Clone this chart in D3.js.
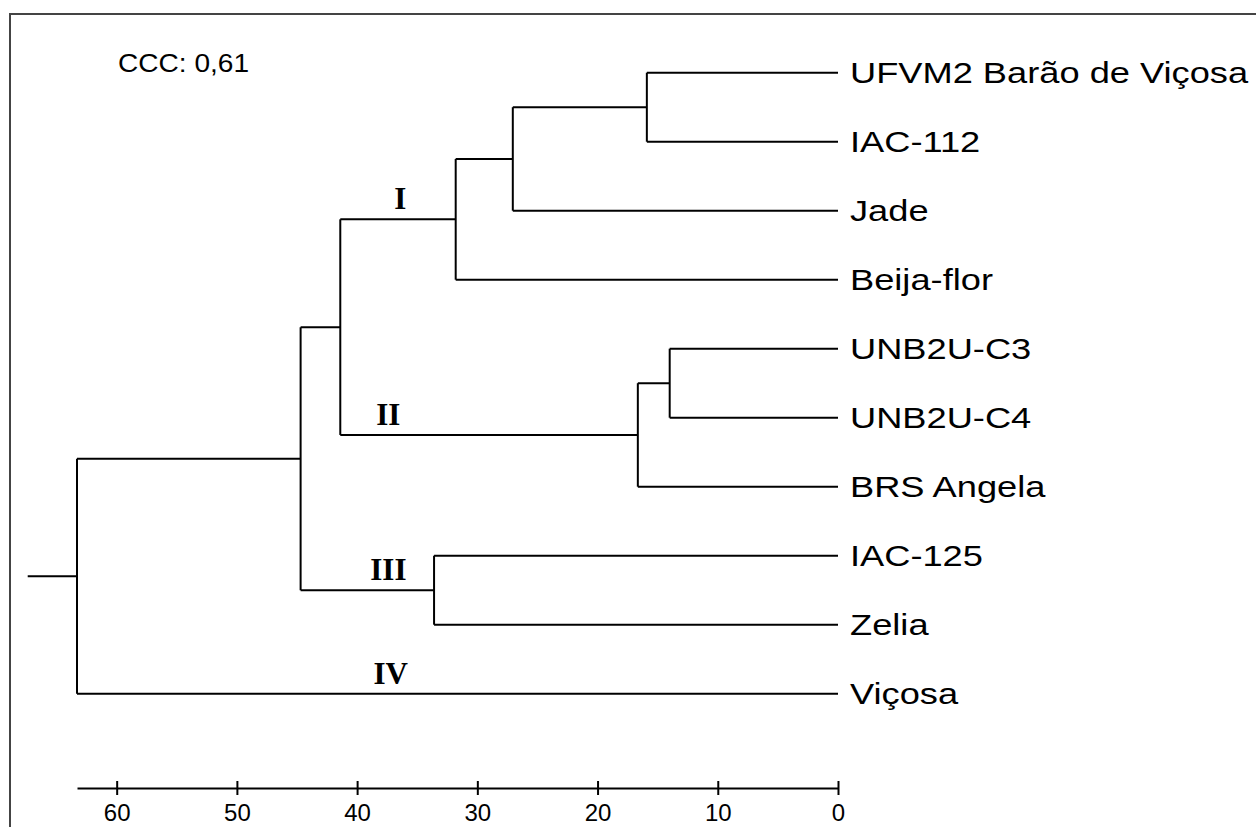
<!DOCTYPE html>
<html>
<head>
<meta charset="utf-8">
<script src="https://cdn.jsdelivr.net/npm/d3@7"></script>
<style>
  body { margin: 0; background: #fff; }
  svg { display: block; }
</style>
</head>
<body>
<div id="chart"></div>
<script>
// leaves, top to bottom
var leaves = ["UFVM2 Barão de Viçosa", "IAC-112", "Jade", "Beija-flor", "UNB2U-C3",
              "UNB2U-C4", "BRS Angela", "IAC-125", "Zelia", "Viçosa"];

// linkage: node nK joins mergeLeft[K] and mergeRight[K] at mergeHeight[K]
var mergeLeft   = ["UNB2U-C3", "UFVM2 Barão de Viçosa", "n0", "n1", "n3", "IAC-125", "n4", "n6", "n7"];
var mergeRight  = ["UNB2U-C4", "IAC-112", "BRS Angela", "Jade", "Beija-flor", "Zelia", "n2", "n5", "Viçosa"];
var mergeHeight = [14.0, 15.9, 16.65, 27.05, 31.8, 33.6, 41.4, 44.7, 63.3];
var rootStem = 67.4;

var tickValues = [60, 50, 40, 30, 20, 10, 0];

// group labels and the branch they sit on
var groupNames = ["I", "II", "III", "IV"];
var groupNodes = ["n4", "n2", "n5", "Viçosa"];
var groupAt    = [36.4, 37.4, 37.4, 37.2];

var ccc = "CCC: 0,61";

var width = 1256, height = 827;

var svg = d3.select("#chart").append("svg")
  .attr("width", width)
  .attr("height", height);

// frame (only left and top edges are visible)
svg.append("rect")
  .attr("x", 10).attr("y", 14)
  .attr("width", 1400).attr("height", 1000)
  .attr("fill", "none")
  .attr("stroke", "#444")
  .attr("stroke-width", 2);

// build the tree from the linkage
var nodes = {};
leaves.forEach(function(name) { nodes[name] = {name: name, h: 0}; });
mergeLeft.forEach(function(l, i) {
  nodes["n" + i] = {name: "n" + i, h: mergeHeight[i], children: [nodes[l], nodes[mergeRight[i]]]};
});
var root = d3.hierarchy(nodes["n" + (mergeLeft.length - 1)]);

var y = d3.scalePoint()
  .domain(leaves)
  .range([72.7, 693.7]);

var x = d3.scaleLinear()
  .domain([0, mergeHeight[mergeHeight.length - 1]])
  .range([838, 77]);

// leaves on the point scale, inner nodes halfway between their children
root.eachAfter(function(d) {
  d.y = d.children ? d3.mean(d.children, function(c) { return c.y; }) : y(d.data.name);
});

var g = svg.append("g")
  .attr("fill", "none")
  .attr("stroke", "#000")
  .attr("stroke-width", 2);

root.descendants().forEach(function(d) {
  if (!d.children) return;
  g.append("line")
    .attr("x1", x(d.data.h)).attr("x2", x(d.data.h))
    .attr("y1", d3.min(d.children, function(c) { return c.y; }))
    .attr("y2", d3.max(d.children, function(c) { return c.y; }));
  d.children.forEach(function(c) {
    g.append("line")
      .attr("x1", x(d.data.h)).attr("x2", x(c.data.h))
      .attr("y1", c.y).attr("y2", c.y);
  });
});

// root stem
g.append("line")
  .attr("x1", x(rootStem)).attr("x2", x(root.data.h))
  .attr("y1", root.y).attr("y2", root.y);

// leaf labels
svg.append("g").selectAll("text")
  .data(root.leaves())
  .enter()
  .append("text")
  .attr("transform", function(d) { return "translate(850," + d.y + ") scale(1.25,1)"; })
  .attr("dy", "0.36em")
  .style("font-family", "'Liberation Sans', Arial, sans-serif")
  .style("font-size", "29px")
  .text(function(d) { return d.data.name; });

// group labels
var byName = {};
root.descendants().forEach(function(d) { byName[d.data.name] = d; });
svg.append("g").selectAll("text")
  .data(groupNames)
  .enter()
  .append("text")
  .attr("x", function(d, i) { return x(groupAt[i]); })
  .attr("y", function(d, i) { return byName[groupNodes[i]].y - 10; })
  .attr("text-anchor", "middle")
  .style("font-family", "'Liberation Serif', 'Times New Roman', serif")
  .style("font-weight", "bold")
  .style("font-size", "31px")
  .text(function(d) { return d; });

// CCC note
svg.append("text")
  .attr("transform", "translate(118,72) scale(1.08,1)")
  .style("font-family", "'Liberation Sans', Arial, sans-serif")
  .style("font-size", "26px")
  .text(ccc);

// distance axis
var axis = svg.append("g")
  .attr("transform", "translate(0,788)")
  .call(d3.axisBottom(x).tickValues(tickValues).tickSizeOuter(0).tickSizeInner(7).tickPadding(9));

axis.select(".domain").attr("stroke", "#000").attr("stroke-width", 2);
axis.selectAll(".tick line").attr("y1", -7).attr("stroke", "#000").attr("stroke-width", 2);
axis.selectAll(".tick text")
  .attr("fill", "#000")
  .style("font-family", "'Liberation Sans', Arial, sans-serif")
  .style("font-size", "24px");
</script>
</body>
</html>
